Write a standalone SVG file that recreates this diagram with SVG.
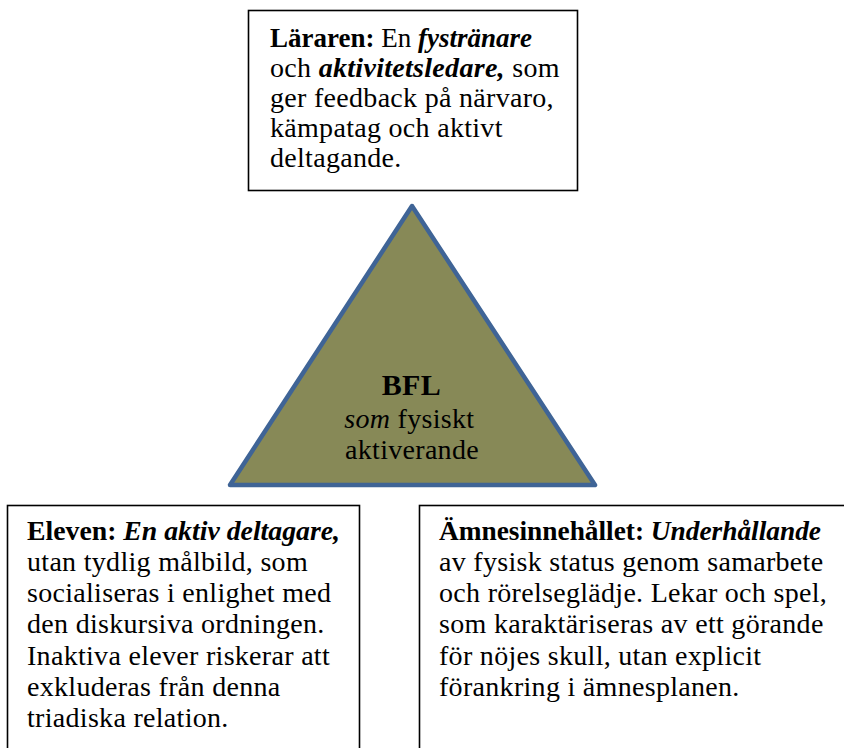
<svg xmlns="http://www.w3.org/2000/svg" width="844" height="748" viewBox="0 0 844 748">
  <style>
    .box { fill: #ffffff; stroke: #000000; stroke-width: 1.6; }
    .txt { font-family: "Liberation Serif", "DejaVu Serif", serif; font-size: 28px; letter-spacing: 0.3px; fill: #000000; }
    .head { letter-spacing: 0; }
    .b { font-weight: bold; }
    .i { font-style: italic; }
    .bi { font-weight: bold; font-style: italic; }
    .tri { fill: #878957; stroke: #3F6496; stroke-width: 4.5; stroke-linejoin: round; }
  </style>
  <rect width="844" height="748" fill="#ffffff"/>

  <g id="connectors"></g>

  <g id="teacher">
    <rect class="box" x="248.5" y="10.5" width="329" height="180"/>
    <text class="txt head" x="270" y="47" textLength="262" lengthAdjust="spacingAndGlyphs"><tspan class="b">Läraren:</tspan> En <tspan class="bi">fystränare</tspan></text>
    <text class="txt">
      <tspan x="270" y="77">och <tspan class="bi">aktivitetsledare,</tspan> som</tspan>
      <tspan x="270" y="107">ger feedback på närvaro,</tspan>
      <tspan x="270" y="137">kämpatag och aktivt</tspan>
      <tspan x="270" y="167">deltagande.</tspan>
    </text>
  </g>

  <g id="bfl">
    <polygon class="tri" points="412,206 595,485 230,485"/>
    <text class="txt" text-anchor="middle">
      <tspan x="415" y="395" class="b" font-size="30">BFL</tspan>
      <tspan x="413" y="428"><tspan class="i">som</tspan> fysiskt</tspan>
      <tspan x="412" y="459">aktiverande</tspan>
    </text>
  </g>

  <g id="student">
    <rect class="box" x="7.5" y="505.5" width="352" height="260"/>
    <text class="txt head" x="27" y="540" textLength="313" lengthAdjust="spacingAndGlyphs"><tspan class="b">Eleven:</tspan> <tspan class="bi">En aktiv deltagare,</tspan></text>
    <text class="txt">
      <tspan x="27" y="571">utan tydlig målbild, som</tspan>
      <tspan x="27" y="602">socialiseras i enlighet med</tspan>
      <tspan x="27" y="633">den diskursiva ordningen.</tspan>
      <tspan x="27" y="665">Inaktiva elever riskerar att</tspan>
      <tspan x="27" y="696">exkluderas från denna</tspan>
      <tspan x="27" y="727">triadiska relation.</tspan>
    </text>
  </g>

  <g id="content">
    <rect class="box" x="419.5" y="505.5" width="440" height="260"/>
    <text class="txt head" x="439" y="540" textLength="382" lengthAdjust="spacingAndGlyphs"><tspan class="b">Ämnesinnehållet:</tspan> <tspan class="bi">Underhållande</tspan></text>
    <text class="txt">
      <tspan x="439" y="571">av fysisk status genom samarbete</tspan>
      <tspan x="439" y="602">och rörelseglädje. Lekar och spel,</tspan>
      <tspan x="439" y="633">som karaktäriseras av ett görande</tspan>
      <tspan x="439" y="665">för nöjes skull, utan explicit</tspan>
      <tspan x="439" y="696">förankring i ämnesplanen.</tspan>
    </text>
  </g>
</svg>
